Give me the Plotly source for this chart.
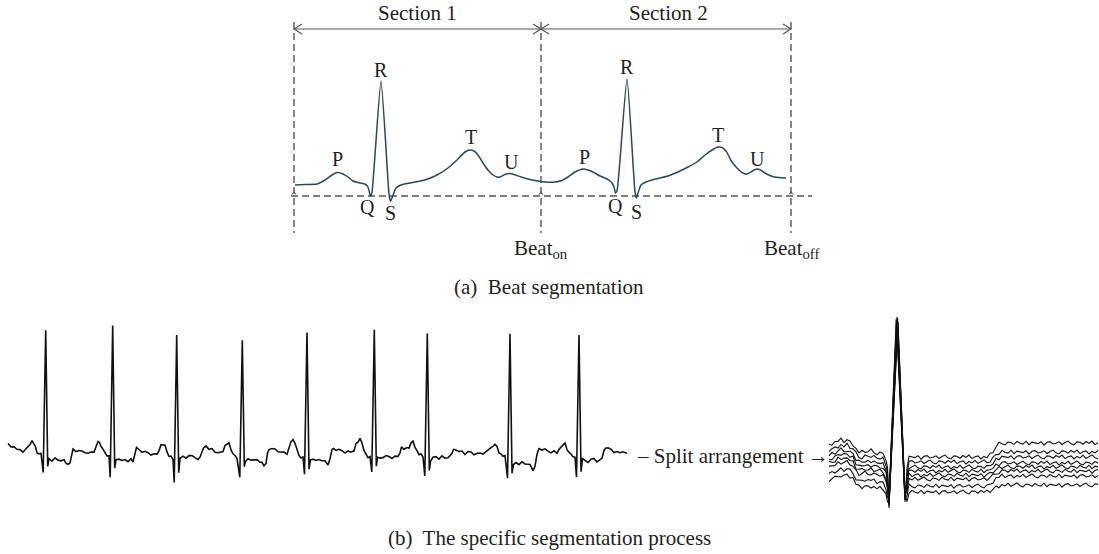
import plotly.graph_objects as go

W, H = 1099, 554
FONT = "Liberation Serif"
INK = "#231f20"
GRAY = "#555555"
WAVE = "#274a5c"

# ---------------- (a) schematic beats: x across the panel, amplitude above the dashed baseline
ecg_a_x = [295, 305, 317, 325, 332, 337, 343, 348, 353, 358, 365, 368, 369.5, 370.5, 372, 381, 389, 390.5, 392,
           396, 401, 410, 425, 437, 448, 457, 465, 470, 474, 478, 483, 488, 493, 497, 500, 503, 506, 510,
           514, 520, 528, 538, 545, 555, 562, 568, 575, 583, 588, 593, 600, 605, 610, 612, 614, 615.5, 617,
           627, 635, 636.5, 638, 641, 646, 652, 668, 680, 688, 697, 705, 712, 718, 722, 726, 732, 737, 740,
           744, 747, 750, 754, 758, 762, 765, 770, 775, 786]
ecg_a_amp = [11, 11.5, 12, 16, 21, 23.5, 22, 19, 15, 13.5, 12, 9, 3, 0, 4, 115, 2, -5.5, -2,
             8, 11, 13, 16, 21, 28, 36, 44, 46, 45, 41, 33, 26, 21, 19, 19, 20.5, 22, 22.5,
             21.5, 19.5, 17, 15, 14, 14, 15.5, 19, 24, 27, 26, 24, 20, 18, 15, 13, 9, 3, 5,
             117, 4, -2, 3, 11, 14, 16, 20, 25, 29, 34, 41, 46, 49, 48.5, 45, 34, 28, 25,
             22.5, 22, 23.5, 26, 27, 25, 23, 20.5, 19, 18]

wave_labels = ["P", "R", "Q", "S", "T", "U", "P", "R", "Q", "S", "T", "U"]
wave_label_x = [337, 381, 367, 390, 471, 511, 584, 627, 615, 636, 718, 757]
wave_label_amp = [37, 126, -11, -17, 59, 34, 39, 129, -10, -16, 61, 37]

beat_x = [294, 541, 791]
section_labels = ["Section 1", "Section 2"]
section_label_x = [417, 668]
beat_marks = ["", "Beat<sub>on</sub>", "Beat<sub>off</sub>"]

# ---------------- (b) left: raw ECG strip (x across panel, amplitude above isoelectric line)
strip_x = [8, 11, 14, 17, 20, 23, 26, 28, 30, 32, 34, 35.5, 37, 39, 41,
           43.2, 45.7, 47.7, 49,
           52, 55, 58, 61, 64, 66, 68, 70, 71.5, 73, 76, 79, 82, 85, 88, 91, 94, 96, 98, 99.5, 101, 103, 105, 107, 109,
           110.2, 112.7, 114.7, 116,
           119, 122, 125, 128, 131, 133, 135, 136.5, 139, 142, 145, 148, 151, 154, 157, 159, 161, 163, 165, 167, 169, 171, 173,
           174.2, 176.7, 178.7, 180,
           183, 186, 189, 192, 195, 198, 200, 202, 203.5, 206, 209, 212, 215, 218, 221, 223, 225, 227, 229, 231, 233, 235, 237,
           239.8, 242.3, 244.3, 245.5,
           248, 251, 254, 257, 260, 262, 264, 266, 267.5, 269, 272, 275, 278, 281, 284, 287, 289, 291, 293, 295, 297, 299, 301, 303,
           304.5, 307, 309, 310.5,
           313, 316, 319, 322, 325, 328, 330, 332, 333.5, 336, 339, 342, 345, 348, 351, 354, 356, 358, 360, 362, 364, 366, 368, 370,
           371.8, 374.3, 376.3, 377.5,
           380, 383, 386, 389, 392, 395, 398, 400, 401.5, 404, 407, 409, 411, 413, 415, 417, 419, 421, 423,
           424.8, 427.3, 429.3, 430.5,
           433, 436, 439, 442, 445, 448, 450, 452, 453.5, 456, 459, 462, 465, 468, 471, 474, 477, 480, 483, 486, 489, 491, 493, 495, 497, 499, 501, 503, 505,
           507.5, 510, 512, 513.5,
           516, 519, 522, 525, 528, 530, 533, 535, 537, 539, 542, 545, 548, 551, 554, 557, 559, 561, 563, 565, 567, 569, 571, 573, 575,
           576.5, 579, 581, 582.5,
           585, 588, 591, 594, 597, 600, 602, 604, 605.5, 608, 611, 614, 617, 620, 623, 626, 627]
strip_amp = [14, 12, 10, 9, 7, 7, 9, 11, 15, 17, 15, 10, 6, 4, 3,
             -14, 129, -9, -1,
             -2, -1, -2, -2, -3, -4, -7, -5, 3, 8, 8, 7, 6, 6, 5, 5, 7, 11, 15, 16, 13, 8, 4, 3, 1,
             -19, 131, -9, -2,
             -2, -1, -2, -3, -2, -3, 3, 9, 9, 7, 6, 5, 4, 3, 4, 8, 12, 14, 12, 6, 2, 1, 0,
             -25, 122, -14, 0,
             1, 1, 2, 1, 1, 0, 0, 6, 11, 11, 9, 8, 7, 5, 5, 8, 12, 15, 14, 9, 4, 1, 0,
             -18, 117, -9, -2,
             -2, -2, -1, -3, -3, -5, -8, -5, 4, 10, 9, 8, 7, 6, 5, 5, 9, 15, 19, 16, 8, 2, 1, 0,
             -16, 124, -10, -2,
             -2, -1, -2, -2, -4, -6, -1, 7, 10, 9, 8, 7, 6, 6, 6, 8, 13, 17, 19, 15, 8, 3, 2, 1,
             -15, 129, -8, 0,
             1, 0, 1, 2, 1, 1, 1, 6, 10, 9, 9, 11, 15, 16, 12, 7, 4, 3, 2,
             -18, 123, -12, -2,
             0, 1, 0, 1, 0, 1, 1, 6, 8, 8, 7, 6, 5, 6, 5, 4, 5, 4, 5, 6, 8, 11, 13, 13, 11, 6, 3, 2, 1,
             -19, 124, -16, -5,
             -5, -6, -5, -5, -6, -8, -12, -7, 3, 9, 9, 8, 7, 6, 6, 6, 8, 11, 14, 14, 10, 5, 3, 2, 1,
             -20, 124, -14, -2,
             -2, -3, -2, -1, -3, -3, 0, 6, 11, 10, 8, 7, 6, 6, 5, 6, 5]

wiggle = [0.8, -1.2, 1.5, -0.4, 1.9, -1.6, 0.3, 1.1, -2.0, 0.6, -0.9, 1.7, -1.3, 0.2, 2.1, -0.7, -1.8, 1.0,
          0.4, -1.4, 1.6, -0.2, -1.1, 1.8, -1.7, 0.9, 0.1, -0.6, 1.3, -2.1, 0.7, 1.4, -1.0, -0.3, 1.2, -1.5,
          0.5, 1.9, -0.8, -1.9, 1.1]

# ---------------- (b) right: superimposed beats, x relative to the R peak
cl_x = [-68, -65, -62, -59, -56, -53, -50, -47, -44, -41, -38, -35, -32, -29, -26, -23, -20, -17, -14, -11, -9.5,
        -8, 0, 8, 10, 12,
        15, 18, 21, 24, 27, 30, 33, 36, 39, 42, 45, 48, 51, 54, 57, 60, 63, 66, 69, 72, 75, 78, 81, 84, 87, 90,
        93, 96, 99, 102, 105,
        108, 111, 114, 117, 120, 123, 126, 129, 132, 135, 138, 141, 144, 147, 150, 153, 156, 159, 162, 165,
        168, 171, 174, 177, 180, 183, 186, 189, 192, 195, 198, 201]
cl_kind = "nnnnnnnnnnnnnnnnnnnnn" + "QRSnn" + "n" * 26 + "n" * 5 + "n" * 32
cl_base = [12, 13, 14, 16, 17, 16, 17, 15, 13, 8, 5, 5, 6, 5, 6, 5, 4, 4, 3, -2, -12,
           0, 0, 0, -10, 0] + [0] * 26 + [0] * 5 + [0] * 32
cl_step = [0] * 26 + [0] * 26 + [0.15, 0.4, 0.7, 0.9, 1.0] + [1.0] * 32

beat_level = [13, 8, 3, -1, -5, -9, -16, -22]
beat_t_step = [14, 10, 10, 8, 8, 8, 10, 7]
beat_q = [-38, -35, -33, -36, -30, -34, -28, -32]
beat_r = [153, 152, 150, 148, 151, 147, 149, 145]
beat_s = [-32, -28, -30, -26, -29, -24, -27, -23]
beat_r_shift = [0, 0.6, -0.5, 1.0, -0.8, 0.3, -0.3, 0.8]

fig = go.Figure()

# ---- (a) guides
base_x0, base_x1 = 291, 812
fig.add_trace(go.Scatter(x=[base_x0, base_x1], y=[0, 0], mode="lines",
                         line=dict(color=GRAY, width=1.4, dash="7px,4px"), hoverinfo="skip"))
for bx in beat_x:
    fig.add_trace(go.Scatter(x=[bx, bx], y=[174, -37], mode="lines",
                             line=dict(color=GRAY, width=1.4, dash="7px,4px"), hoverinfo="skip"))
    fig.add_trace(go.Scatter(x=[bx - 2, bx, bx + 2], y=[1.5, 4.5, 1.5], mode="lines",
                             line=dict(color=GRAY, width=1), hoverinfo="skip"))

# section arrow
arr_amp = 167
fig.add_trace(go.Scatter(x=[beat_x[0], beat_x[2]], y=[arr_amp, arr_amp], mode="lines",
                         line=dict(color=GRAY, width=1.2), hoverinfo="skip"))
chev_x, chev_y = [], []
for i, bx in enumerate(beat_x):
    dirs = []
    if i > 0:
        dirs.append(-1)
    if i < len(beat_x) - 1:
        dirs.append(1)
    for d in dirs:
        chev_x += [bx + 8 * d, bx, bx + 8 * d, None]
        chev_y += [arr_amp + 5, arr_amp, arr_amp - 5, None]
fig.add_trace(go.Scatter(x=chev_x, y=chev_y, mode="lines", line=dict(color=GRAY, width=1.2),
                         hoverinfo="skip"))

fig.add_trace(go.Scatter(x=ecg_a_x, y=ecg_a_amp, mode="lines",
                         line=dict(color=WAVE, width=1.5, shape="spline", smoothing=0.5),
                         hoverinfo="skip"))

# ---- (b) strip
strip_y = [a + 0.75 * wiggle[i % len(wiggle)] for i, a in enumerate(strip_amp)]
fig.add_trace(go.Scatter(x=strip_x, y=strip_y, mode="lines", xaxis="x2", yaxis="y2",
                         line=dict(color="#111111", width=1.6), hoverinfo="skip"))

# ---- (b) superimposed beats
for k in range(len(beat_level)):
    xs, ys = [], []
    for i, x in enumerate(cl_x):
        kind = cl_kind[i]
        if kind == "Q":
            y = beat_q[k]
        elif kind == "R":
            y = beat_r[k]
            x = x + beat_r_shift[k]
        elif kind == "S":
            y = beat_s[k]
        else:
            y = beat_level[k] + cl_base[i] + cl_step[i] * beat_t_step[k] + wiggle[(i + 5 * k) % len(wiggle)]
        xs.append(x)
        ys.append(y)
    fig.add_trace(go.Scatter(x=xs, y=ys, mode="lines", xaxis="x3", yaxis="y3",
                             line=dict(color="#111111", width=1.1), hoverinfo="skip"))

C = dict(showarrow=False, xanchor="center", yanchor="middle")
ann = []
for t, x, a in zip(wave_labels, wave_label_x, wave_label_amp):
    ann.append(dict(C, x=x, y=a, xref="x", yref="y", text=t,
                    font=dict(family=FONT, size=20, color=INK)))
for t, x in zip(section_labels, section_label_x):
    ann.append(dict(C, x=x, y=183, xref="x", yref="y", text=t,
                    font=dict(family=FONT, size=21, color=INK)))
for t, x in zip(beat_marks, beat_x):
    if t:
        ann.append(dict(C, x=x, y=-53, xref="x", yref="y", text=t,
                        font=dict(family=FONT, size=21, color=INK)))
ann.append(dict(C, x=549 / W, y=1 - 287 / H, xref="paper", yref="paper", text="(a)  Beat segmentation",
                font=dict(family=FONT, size=21, color=INK)))
ann.append(dict(C, x=549 / W, y=1 - 538 / H, xref="paper", yref="paper",
                text="(b)  The specific segmentation process",
                font=dict(family=FONT, size=21, color=INK)))
ann.append(dict(C, x=733 / W, y=1 - 456 / H, xref="paper", yref="paper",
                text="– Split arrangement\u2009→",
                font=dict(family=FONT, size=21, color=INK)))

ax = dict(visible=False, fixedrange=True, showgrid=False, zeroline=False)
fig.update_layout(
    width=W, height=H, margin=dict(l=0, r=0, t=0, b=0),
    paper_bgcolor="white", plot_bgcolor="white", showlegend=False,
    xaxis=dict(ax, domain=[0, 1], range=[0, W]),
    yaxis=dict(ax, domain=[0, 1], range=[196 - H, 196]),
    xaxis2=dict(ax, range=[0, W], overlaying="x", anchor="y2"),
    yaxis2=dict(ax, range=[458 - H, 458], overlaying="y", anchor="x2"),
    xaxis3=dict(ax, range=[-897, W - 897], overlaying="x", anchor="y3"),
    yaxis3=dict(ax, range=[470 - H, 470], overlaying="y", anchor="x3"),
    annotations=ann,
)

fig.write_html("out.html")
